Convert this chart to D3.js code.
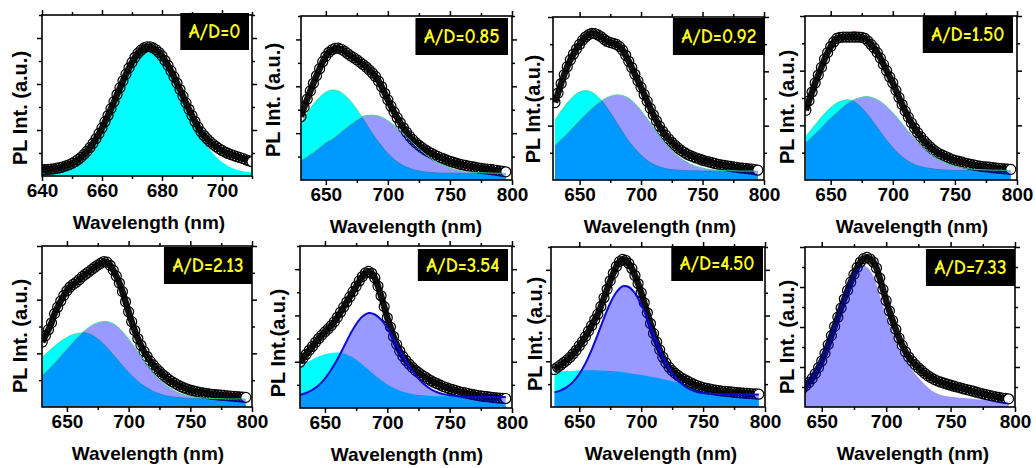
<!DOCTYPE html>
<html>
<head>
<meta charset="utf-8">
<script src="https://cdn.jsdelivr.net/npm/d3@7"></script>
<style>
  body { margin: 0; background: #fff; }
  svg { display: block; font-family: "Liberation Sans", Arial, sans-serif; }
</style>
</head>
<body>
<div id="viz"></div>
<script>
const width = 1036;
const height = 468;

// A/D ratio written in each black label box
const ratios = ['0', '0.85', '0.92', '1.50', '2.13', '3.54', '4.50', '7.33'];

// wavelength grids (nm)
const wlDense = d3.range(640, 710.5, 1);   // panel 1 measured points
const wlDonor0 = d3.range(640, 710.5, 2);  // panel 1 donor band
const wlPts = d3.range(630, 795.5, 2.5);   // measured points, panels 2-8
const wlComp = d3.range(630, 795.5, 5);    // fitted donor / acceptor bands
const wlFit = d3.range(630, 790.5, 10);    // cumulative fit (red)

// x tick values
const ticksNarrow = [640, 660, 680, 700];
const minorNarrow = [650, 670, 690, 710];
const ticksWide = [650, 700, 750, 800];
const minorWide = [675, 725, 775];

// ---- measured PL (open circles), a.u.
const pl0 = [0.27,0.28,0.29,0.30,0.31,0.34,0.36,0.40,0.44,0.49,
  0.55,0.62,0.71,0.81,0.94,1.08,1.24,1.42,1.62,1.85,
  2.09,2.36,2.63,2.93,3.23,3.54,3.84,4.14,4.43,4.70,
  4.94,5.16,5.34,5.47,5.57,5.62,5.62,5.57,5.49,5.37,
  5.22,5.02,4.81,4.57,4.31,4.04,3.76,3.47,3.18,2.90,
  2.63,2.37,2.13,1.92,1.76,1.62,1.49,1.38,1.28,1.19,
  1.11,1.04,0.98,0.93,0.89,0.84,0.80,0.76,0.70,0.66,
  0.62];
const pl1 = [2.70,3.10,3.45,3.80,4.13,4.45,4.75,5.05,5.28,5.45,
  5.56,5.62,5.63,5.58,5.50,5.40,5.30,5.22,5.13,5.03,
  4.93,4.82,4.70,4.57,4.42,4.22,3.98,3.70,3.42,3.15,
  2.90,2.66,2.44,2.23,2.04,1.87,1.72,1.59,1.48,1.38,
  1.29,1.21,1.14,1.07,1.01,0.95,0.90,0.85,0.80,0.76,
  0.72,0.68,0.65,0.62,0.59,0.57,0.55,0.52,0.50,0.48,
  0.47,0.45,0.43,0.41,0.39,0.37,0.35];
const pl2 = [2.85,3.20,3.55,3.88,4.17,4.42,4.63,4.82,4.99,5.15,
  5.27,5.35,5.40,5.39,5.34,5.27,5.18,5.10,5.06,5.03,
  4.99,4.91,4.78,4.59,4.37,4.14,3.89,3.65,3.41,3.15,
  2.90,2.64,2.40,2.18,1.98,1.80,1.65,1.51,1.39,1.28,
  1.18,1.09,1.02,0.95,0.90,0.85,0.81,0.77,0.73,0.70,
  0.67,0.64,0.61,0.58,0.56,0.54,0.52,0.50,0.48,0.47,
  0.45,0.44,0.43,0.41,0.40,0.38,0.36];
const pl3 = [2.55,2.90,3.22,3.55,3.84,4.12,4.42,4.66,4.88,5.05,
  5.18,5.22,5.23,5.23,5.23,5.23,5.23,5.23,5.22,5.18,
  5.08,4.96,4.83,4.66,4.46,4.23,4.00,3.77,3.55,3.28,
  3.02,2.76,2.52,2.30,2.09,1.90,1.73,1.58,1.44,1.32,
  1.21,1.11,1.03,0.96,0.91,0.86,0.81,0.76,0.72,0.69,
  0.66,0.63,0.60,0.57,0.55,0.53,0.51,0.49,0.48,0.47,
  0.45,0.44,0.43,0.42,0.41,0.40,0.39];
const pl4 = [2.42,2.65,2.88,3.14,3.48,3.72,3.95,4.16,4.33,4.47,
  4.57,4.65,4.75,4.86,4.95,5.03,5.12,5.21,5.29,5.36,
  5.42,5.40,5.28,5.10,4.88,4.62,4.30,3.92,3.55,3.18,
  2.85,2.55,2.30,2.07,1.88,1.71,1.57,1.43,1.32,1.21,
  1.12,1.03,0.95,0.88,0.82,0.76,0.71,0.67,0.63,0.60,
  0.57,0.55,0.53,0.51,0.49,0.47,0.46,0.45,0.44,0.43,
  0.42,0.41,0.40,0.39,0.38,0.37,0.36];
const pl5 = [1.98,2.15,2.32,2.50,2.66,2.84,3.00,3.15,3.29,3.42,
  3.56,3.72,3.92,4.14,4.36,4.58,4.80,5.03,5.26,5.49,
  5.68,5.84,5.90,5.82,5.62,5.27,4.85,4.38,3.90,3.50,
  3.09,2.75,2.46,2.23,2.05,1.90,1.76,1.63,1.53,1.43,
  1.35,1.26,1.18,1.11,1.05,0.99,0.93,0.88,0.83,0.79,
  0.75,0.71,0.68,0.65,0.62,0.59,0.57,0.54,0.52,0.50,
  0.49,0.47,0.45,0.44,0.43,0.42,0.41];
const pl6 = [1.64,1.74,1.84,1.94,2.05,2.17,2.32,2.48,2.67,2.86,
  3.08,3.32,3.56,3.82,4.06,4.40,4.78,5.15,5.52,5.85,
  6.15,6.36,6.46,6.42,6.28,6.06,5.75,5.40,5.00,4.56,
  4.12,3.65,3.22,2.85,2.50,2.18,1.93,1.74,1.59,1.47,
  1.37,1.28,1.20,1.13,1.06,1.00,0.94,0.89,0.85,0.82,
  0.79,0.76,0.74,0.72,0.70,0.69,0.67,0.66,0.64,0.63,
  0.62,0.61,0.60,0.59,0.58,0.57,0.56];
const pl7 = [0.70,0.80,0.92,1.06,1.22,1.42,1.67,1.97,2.30,2.68,
  3.12,3.57,4.03,4.49,4.95,5.40,5.83,6.24,6.63,6.98,
  7.25,7.42,7.48,7.40,7.25,6.95,6.45,5.88,5.32,4.80,
  4.32,3.88,3.45,3.08,2.76,2.50,2.30,2.12,1.96,1.82,
  1.68,1.56,1.46,1.37,1.30,1.24,1.19,1.14,1.09,1.04,
  1.00,0.96,0.91,0.87,0.83,0.79,0.74,0.70,0.66,0.62,
  0.58,0.55,0.51,0.48,0.45,0.43,0.41];

// ---- donor band (cyan)
const donor0 = [0.19,0.21,0.25,0.30,0.38,0.50,0.66,0.89,1.19,1.57,
  2.02,2.55,3.13,3.72,4.29,4.78,5.17,5.41,5.48,5.37,
  5.10,4.69,4.19,3.62,3.04,2.48,1.96,1.51,1.13,0.84,
  0.61,0.44,0.32,0.24,0.18,0.14];
const donor1 = [2.38,2.85,3.23,3.53,3.75,3.84,3.80,3.63,3.36,3.01,
  2.60,2.19,1.79,1.44,1.13,0.88,0.69,0.55,0.45,0.39,
  0.34,0.32,0.30,0.29,0.29,0.29,0.28,0.28,0.28,0.28,
  0.28,0.28,0.28,0.28];
const donor2 = [2.20,2.54,2.84,3.08,3.24,3.29,3.23,3.06,2.80,2.48,
  2.12,1.77,1.43,1.15,0.91,0.72,0.58,0.49,0.42,0.38,
  0.36,0.35,0.34,0.34,0.33,0.33,0.33,0.33,0.33,0.33,
  0.33,0.33,0.33,0.33];
const donor3 = [1.60,1.88,2.16,2.43,2.65,2.82,2.91,2.93,2.83,2.64,
  2.38,2.07,1.76,1.45,1.18,0.94,0.76,0.62,0.52,0.46,
  0.42,0.39,0.37,0.36,0.35,0.35,0.35,0.35,0.35,0.35,
  0.35,0.35,0.35,0.35];
const donor4 = [1.86,2.07,2.27,2.45,2.59,2.70,2.75,2.76,2.68,2.53,
  2.33,2.08,1.81,1.54,1.29,1.06,0.86,0.71,0.58,0.49,
  0.42,0.38,0.35,0.33,0.32,0.31,0.31,0.30,0.30,0.30,
  0.30,0.30,0.30,0.30];
const donor5 = [1.79,1.95,2.10,2.22,2.32,2.38,2.40,2.36,2.25,2.08,
  1.88,1.65,1.42,1.21,1.02,0.87,0.75,0.67,0.60,0.56,
  0.54,0.52,0.51,0.51,0.50,0.50,0.50,0.50,0.50,0.50,
  0.50,0.50,0.50,0.50];
const donor6 = [1.52,1.55,1.57,1.59,1.60,1.61,1.61,1.60,1.59,1.57,
  1.55,1.52,1.48,1.44,1.40,1.35,1.30,1.25,1.19,1.13,
  1.07,1.01,0.96,0.91,0.87,0.83,0.80,0.77,0.75,0.73,
  0.71,0.70,0.69,0.68];

// ---- acceptor band (violet)
const acceptor1 = [0.84,1.00,1.18,1.39,1.61,1.75,1.95,2.17,2.38,2.56,
  2.72,2.76,2.76,2.68,2.53,2.33,2.10,1.84,1.58,1.34,
  1.11,0.91,0.75,0.62,0.51,0.44,0.38,0.35,0.32,0.31,
  0.30,0.29,0.29,0.28];
const acceptor2 = [1.29,1.50,1.72,1.96,2.20,2.43,2.64,2.83,2.98,3.08,
  3.13,3.11,3.01,2.82,2.56,2.26,1.94,1.63,1.34,1.09,
  0.88,0.72,0.59,0.50,0.44,0.39,0.37,0.35,0.34,0.34,
  0.33,0.33,0.33,0.33];
const acceptor3 = [1.38,1.59,1.82,2.05,2.28,2.49,2.69,2.85,2.96,3.03,
  3.05,2.99,2.87,2.69,2.46,2.20,1.92,1.65,1.40,1.17,
  0.98,0.81,0.68,0.58,0.51,0.46,0.42,0.39,0.38,0.37,
  0.36,0.36,0.35,0.35];
const acceptor4 = [1.19,1.41,1.65,1.91,2.17,2.43,2.67,2.87,3.04,3.14,
  3.19,3.16,3.03,2.81,2.53,2.22,1.89,1.57,1.27,1.03,
  0.82,0.66,0.54,0.45,0.40,0.36,0.34,0.32,0.31,0.31,
  0.30,0.30,0.30,0.30];
const acceptor5 = [0.57,0.65,0.78,0.98,1.27,1.65,2.11,2.63,3.16,3.62,
  3.95,4.10,4.04,3.82,3.46,3.00,2.51,2.04,1.62,1.27,
  1.00,0.81,0.68,0.60,0.55,0.52,0.50,0.49,0.48,0.48,
  0.48,0.48,0.48,0.48];
const acceptor6 = [0.64,0.73,0.87,1.10,1.44,1.91,2.50,3.18,3.89,4.54,
  5.02,5.28,5.25,4.97,4.49,3.87,3.19,2.54,1.97,1.50,
  1.16,0.92,0.76,0.66,0.61,0.58,0.57,0.56,0.56,0.55,
  0.55,0.55,0.55,0.55];
const acceptor7 = [0.70,0.95,1.50,2.00,2.65,3.45,4.35,5.25,6.10,6.75,
  7.05,7.00,6.55,5.60,4.58,3.70,2.90,2.35,1.88,1.47,
  1.12,0.84,0.66,0.56,0.51,0.48,0.45,0.42,0.39,0.36,
  0.33,0.30,0.27,0.25];

// ---- cumulative fit (red line)
const fit1 = [2.75,4.10,5.20,5.52,5.30,4.90,4.35,3.45,2.45,1.73,1.30,1.02,0.80,0.63,0.50,0.42,0.36];
const fit2 = [2.90,4.15,5.00,5.35,5.25,4.95,4.35,3.40,2.40,1.65,1.20,0.90,0.72,0.60,0.50,0.44,0.40];
const fit3 = [2.50,3.85,4.85,5.25,5.42,5.10,4.45,3.55,2.55,1.75,1.25,0.92,0.73,0.60,0.51,0.45,0.41];
const fit4 = [2.50,3.50,4.33,4.85,5.20,5.30,4.90,3.60,2.40,1.60,1.15,0.85,0.66,0.53,0.45,0.40,0.37];
const fit5 = [2.00,2.70,3.30,3.95,4.75,5.55,5.60,3.95,2.45,1.75,1.35,1.06,0.86,0.70,0.60,0.53,0.49];
const fit6 = [1.70,2.05,2.60,3.50,4.75,6.05,6.20,4.95,3.20,1.95,1.40,1.08,0.87,0.75,0.68,0.63,0.59];

// panel geometry (pixels) + which series go where
const panels = [
  {left: 42, right: 252, top: 15, bottom: 176, xd: [640, 710], yMax: 7,
   pts: pl0, ptsGrid: wlDense, donor: donor0, donorGrid: wlDonor0, acc: null, fit: null,
   yTitle: 'PL Int. (a.u.)', ty: [20, 108], tx: 149, box: [249, 13, 37], edge: null},
  {left: 301, right: 512, top: 16, bottom: 180, xd: [630, 800], yMax: 7,
   pts: pl1, donor: donor1, acc: acceptor1, fit: fit1,
   yTitle: 'PL Int. (a.u.)', ty: [273, 100], tx: 406, box: [508, 18, 37], edge: 'green'},
  {left: 553, right: 764, top: 17, bottom: 180, xd: [628.4, 800], yMax: 6,
   pts: pl2, donor: donor2, acc: acceptor2, fit: fit2,
   yTitle: 'PL Int.(a.u.)', ty: [533, 109], tx: 660, box: [765, 18, 37], edge: 'green'},
  {left: 805, right: 1017, top: 16, bottom: 180, xd: [629.3, 800], yMax: 6,
   pts: pl3, donor: donor3, acc: acceptor3, fit: fit3,
   yTitle: 'PL Int. (a.u.)', ty: [787, 107], tx: 912, box: [1013, 16, 37], edge: 'green'},
  {left: 42, right: 252, top: 246, bottom: 407, xd: [629.8, 800], yMax: 6,
   pts: pl4, donor: donor4, acc: acceptor4, fit: fit4,
   yTitle: 'PL Int. (a.u.)', ty: [20, 336], tx: 148, box: [252, 247, 37], edge: 'green'},
  {left: 300, right: 512, top: 246, bottom: 408, xd: [630, 800], yMax: 7,
   pts: pl5, donor: donor5, acc: acceptor5, fit: fit5,
   yTitle: 'PL Int.(a.u.)', ty: [278, 343], tx: 407, box: [508, 249, 32], edge: 'blue'},
  {left: 551, right: 765, top: 247, bottom: 407, xd: [627.2, 800], yMax: 7,
   pts: pl6, donor: donor6, acc: acceptor6, fit: fit6,
   yTitle: 'PL Int. (a.u.)', ty: [535, 334], tx: 661, box: [763, 246, 35], edge: 'blue'},
  {left: 805, right: 1015, top: 247, bottom: 407, xd: [637, 800], yMax: 8,
   pts: pl7, donor: null, acc: acceptor7, fit: null,
   yTitle: 'PL Int. (a.u.)', ty: [787, 337], tx: 913, box: [1015, 249, 37], edge: null}
];

const svg = d3.select('#viz')
  .append('svg')
  .attr('width', width)
  .attr('height', height);

const pair = (grid, vals) => vals.map((v, i) => [grid[i], v]);

const drawPanel = (p, k) => {
  const xScale = d3.scaleLinear().domain(p.xd).range([p.left, p.right]);
  const yScale = d3.scaleLinear().domain([0, p.yMax]).range([p.bottom, p.top]);
  const g = svg.append('g');

  g.append('clipPath').attr('id', 'clip' + k)
    .append('rect')
      .attr('x', p.left).attr('y', p.top)
      .attr('width', p.right - p.left).attr('height', p.bottom - p.top);
  const plot = g.append('g').attr('clip-path', `url(#clip${k})`);

  const area = d3.area()
    .x(d => xScale(d[0]))
    .y0(yScale(0))
    .y1(d => yScale(d[1]))
    .curve(d3.curveCatmullRom);
  const line = d3.line()
    .x(d => xScale(d[0]))
    .y(d => yScale(d[1]))
    .curve(d3.curveCatmullRom);

  // donor band, opaque cyan
  if (p.donor) {
    const dd = pair(p.donorGrid || wlComp, p.donor);
    plot.append('path').attr('d', area(dd)).attr('fill', '#00ffff');
    if (p.edge === 'green') {
      plot.append('path').attr('d', line(dd))
        .attr('fill', 'none').attr('stroke', '#3fd98a').attr('stroke-width', 0.9);
    }
  }

  // cumulative fit, mostly hidden under the symbols
  if (p.fit) {
    plot.append('path').attr('d', line(pair(wlFit, p.fit)))
      .attr('fill', 'none').attr('stroke', '#e0201c').attr('stroke-width', 1);
  }

  // measured points: dense symbols merge into a dark ribbon
  const pts = pair(p.ptsGrid || wlPts, p.pts);
  plot.append('path')
    .attr('d', line(pts))
    .attr('fill', 'none')
    .attr('stroke', '#111')
    .attr('stroke-width', 6.5)
    .attr('stroke-linejoin', 'round');
  plot.append('g')
    .selectAll('circle')
    .data(pts)
    .join('circle')
      .attr('cx', d => xScale(d[0]))
      .attr('cy', d => yScale(d[1]))
      .attr('r', 5)
      .attr('fill', (d, i) => i === pts.length - 1 ? '#fff' : 'none')
      .attr('stroke', '#000')
      .attr('stroke-width', 1.2);

  // acceptor band, translucent blue on top
  if (p.acc) {
    const aa = pair(wlComp, p.acc);
    plot.append('path').attr('d', area(aa))
      .attr('fill', '#0000ff').attr('fill-opacity', 0.4);
    if (p.edge === 'green') {
      plot.append('path').attr('d', line(aa))
        .attr('fill', 'none').attr('stroke', '#3fd98a').attr('stroke-width', 0.9);
    }
    if (p.edge === 'blue') {
      plot.append('path').attr('d', line(aa))
        .attr('fill', 'none').attr('stroke', '#0a0ad0').attr('stroke-width', 2);
    }
  }

  // frame
  g.append('rect')
    .attr('x', p.left).attr('y', p.top)
    .attr('width', p.right - p.left).attr('height', p.bottom - p.top)
    .attr('fill', 'none').attr('stroke', '#000').attr('stroke-width', 1.6);

  const narrow = p.xd[1] < 750;
  const xMajor = narrow ? ticksNarrow : ticksWide;
  const xMinor = narrow ? minorNarrow : minorWide;
  const yMajor = d3.range(2, p.yMax + 0.5, 2);
  const yMinor = d3.range(1, p.yMax + 0.5, 2);

  const addAxis = (axis, tx, ty) => {
    const a = g.append('g')
      .attr('transform', `translate(${tx}, ${ty})`)
      .call(axis);
    a.select('.domain').remove();
    a.selectAll('line').attr('stroke-width', 1.5);
    return a;
  };

  const xb = addAxis(d3.axisBottom(xScale).tickValues(xMajor).tickSize(5).tickPadding(3)
    .tickFormat(d3.format('d')), 0, p.bottom);
  xb.selectAll('text')
    .attr('font-size', 19).attr('font-weight', 'bold')
    .attr('font-family', '"Liberation Sans", Arial, sans-serif').attr('fill', '#000');
  addAxis(d3.axisBottom(xScale).tickValues(xMinor).tickSize(3).tickFormat(''), 0, p.bottom);
  addAxis(d3.axisTop(xScale).tickValues(xMajor).tickSize(5).tickFormat(''), 0, p.top);
  addAxis(d3.axisTop(xScale).tickValues(xMinor).tickSize(3).tickFormat(''), 0, p.top);
  addAxis(d3.axisLeft(yScale).tickValues(yMajor).tickSize(5).tickFormat(''), p.left, 0);
  addAxis(d3.axisLeft(yScale).tickValues(yMinor).tickSize(3).tickFormat(''), p.left, 0);
  addAxis(d3.axisRight(yScale).tickValues(yMajor).tickSize(5).tickFormat(''), p.right, 0);
  addAxis(d3.axisRight(yScale).tickValues(yMinor).tickSize(3).tickFormat(''), p.right, 0);

  // axis titles
  g.append('text')
    .attr('transform', `translate(${p.ty[0]}, ${p.ty[1]}) rotate(-90)`)
    .attr('text-anchor', 'middle')
    .attr('dy', '0.35em')
    .attr('font-size', 20).attr('font-weight', 'bold')
    .text(p.yTitle);

  g.append('text')
    .attr('x', p.tx)
    .attr('y', p.bottom + 53)
    .attr('text-anchor', 'middle')
    .attr('font-size', 19).attr('font-weight', 'bold')
    .text('Wavelength (nm)');

  // A/D label box
  const lab = g.append('g');
  const t = lab.append('text')
    .text('A/D=' + ratios[k])
    .attr('font-family', '"Comic Sans MS", "Comic Neue", "DejaVu Sans", sans-serif')
    .attr('font-size', 19.5)
    .attr('font-weight', 'bold')
    .attr('fill', '#ffff1e');
  const w = t.node().getComputedTextLength() + 17;
  const [bx1, by0, bh] = p.box;
  lab.insert('rect', 'text')
    .attr('x', bx1 - w).attr('y', by0)
    .attr('width', w).attr('height', bh)
    .attr('fill', '#000');
  t.attr('x', bx1 - w / 2)
    .attr('y', by0 + bh / 2)
    .attr('text-anchor', 'middle')
    .attr('dominant-baseline', 'central');
};

panels.forEach((p, k) => drawPanel(p, k));
</script>
</body>
</html>
